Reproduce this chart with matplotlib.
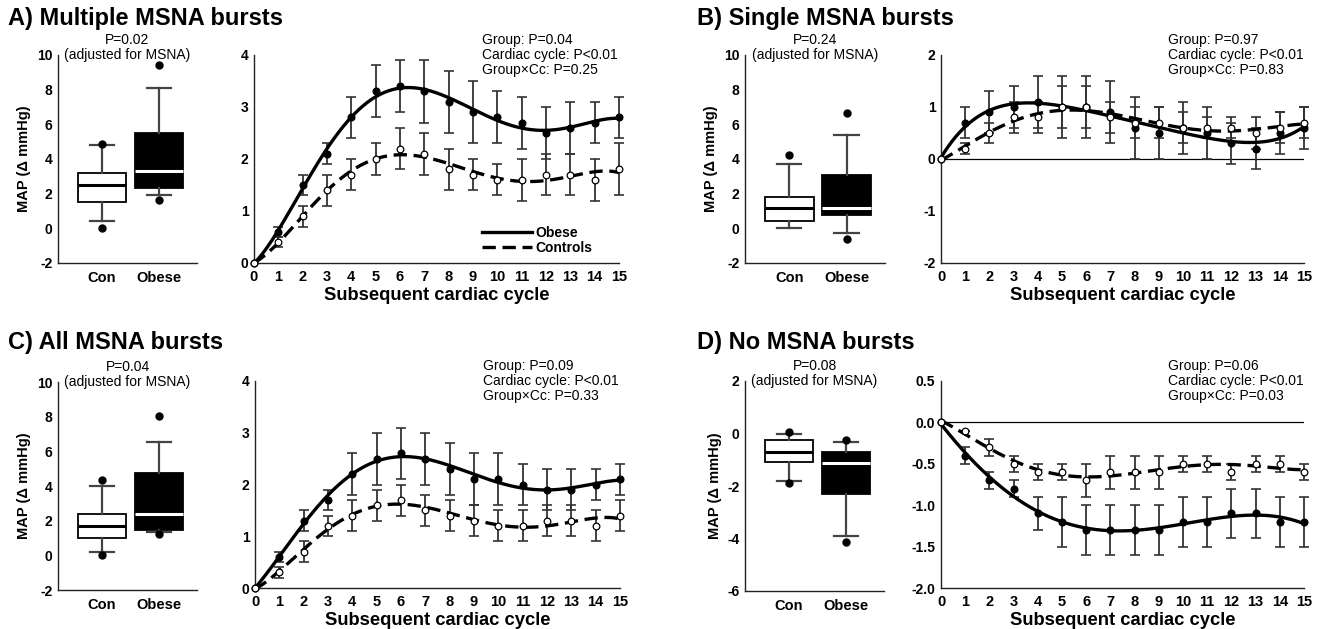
import matplotlib.pyplot as plt
import numpy as np
from matplotlib.lines import Line2D

plt.rcParams['font.family'] = ['Liberation Sans', 'DejaVu Sans']
plt.rcParams['axes.unicode_minus'] = False

W, H = 1328, 629
cycles = np.arange(16)
groups = ["Con", "Obese"]

# A) Multiple MSNA bursts
a_obese = [0, 0.6, 1.5, 2.1, 2.8, 3.3, 3.4, 3.3, 3.1, 2.9, 2.8, 2.7, 2.5, 2.6, 2.7, 2.8]
a_obese_se = [0, 0.1, 0.2, 0.2, 0.4, 0.5, 0.5, 0.6, 0.6, 0.6, 0.5, 0.5, 0.5, 0.5, 0.4, 0.4]
a_con = [0, 0.4, 0.9, 1.4, 1.7, 2.0, 2.2, 2.1, 1.8, 1.7, 1.6, 1.6, 1.7, 1.7, 1.6, 1.8]
a_con_se = [0, 0.1, 0.2, 0.3, 0.3, 0.3, 0.4, 0.4, 0.4, 0.3, 0.3, 0.4, 0.4, 0.4, 0.4, 0.5]
# box: whislo, q1, median, q3, whishi ; outlier dots
a_box_con = [0.4, 1.5, 2.5, 3.2, 4.8]
a_dots_con = [4.85, 0.0]
a_box_obese = [1.95, 2.3, 3.3, 5.5, 8.1]
a_dots_obese = [9.4, 1.65]

# B) Single MSNA bursts
b_obese = [0, 0.7, 0.9, 1.0, 1.1, 1.0, 1.0, 0.9, 0.6, 0.5, 0.6, 0.5, 0.3, 0.2, 0.5, 0.6]
b_obese_se = [0, 0.3, 0.4, 0.4, 0.5, 0.6, 0.6, 0.6, 0.6, 0.5, 0.5, 0.5, 0.4, 0.4, 0.4, 0.4]
b_con = [0, 0.2, 0.5, 0.8, 0.8, 1.0, 1.0, 0.8, 0.7, 0.7, 0.6, 0.6, 0.6, 0.5, 0.6, 0.7]
b_con_se = [0, 0.1, 0.2, 0.3, 0.3, 0.4, 0.4, 0.3, 0.3, 0.3, 0.3, 0.2, 0.2, 0.3, 0.3, 0.3]
b_box_con = [0.0, 0.45, 1.2, 1.8, 3.7]
b_dots_con = [4.25]
b_box_obese = [-0.25, 0.75, 1.15, 3.05, 5.4]
b_dots_obese = [6.65, -0.6]

# C) All MSNA bursts
c_obese = [0, 0.6, 1.3, 1.7, 2.2, 2.5, 2.6, 2.5, 2.3, 2.1, 2.1, 2.0, 1.9, 1.9, 2.0, 2.1]
c_obese_se = [0, 0.1, 0.2, 0.2, 0.4, 0.5, 0.5, 0.5, 0.5, 0.5, 0.5, 0.4, 0.4, 0.4, 0.3, 0.3]
c_con = [0, 0.3, 0.7, 1.2, 1.4, 1.6, 1.7, 1.5, 1.4, 1.3, 1.2, 1.2, 1.3, 1.3, 1.2, 1.4]
c_con_se = [0, 0.1, 0.2, 0.2, 0.3, 0.3, 0.3, 0.3, 0.3, 0.3, 0.3, 0.3, 0.3, 0.3, 0.3, 0.3]
c_box_con = [0.2, 1.0, 1.7, 2.4, 4.0]
c_dots_con = [4.35, 0.0]
c_box_obese = [1.35, 1.45, 2.4, 4.75, 6.55]
c_dots_obese = [8.05, 1.25]

# D) No MSNA bursts
d_obese = [0, -0.4, -0.7, -0.8, -1.1, -1.2, -1.3, -1.3, -1.3, -1.3, -1.2, -1.2, -1.1, -1.1, -1.2, -1.2]
d_obese_se = [0, 0.1, 0.1, 0.1, 0.2, 0.3, 0.3, 0.3, 0.3, 0.3, 0.3, 0.3, 0.3, 0.3, 0.3, 0.3]
d_con = [0, -0.1, -0.3, -0.5, -0.6, -0.6, -0.7, -0.6, -0.6, -0.6, -0.5, -0.5, -0.6, -0.5, -0.5, -0.6]
d_con_se = [0, 0, 0.1, 0.1, 0.1, 0.1, 0.2, 0.2, 0.2, 0.2, 0.1, 0.1, 0.1, 0.1, 0.1, 0.1]
d_box_con = [-1.8, -1.1, -0.72, -0.25, -0.03]
d_dots_con = [0.05, -1.87]
d_box_obese = [-3.9, -2.32, -1.12, -0.7, -0.32]
d_dots_obese = [-0.25, -4.15]

titles = ["A) Multiple MSNA bursts", "B) Single MSNA bursts",
          "C) All MSNA bursts", "D) No MSNA bursts"]
box_p = ["P=0.02", "P=0.24", "P=0.04", "P=0.08"]
stats_text = [
    "Group: P=0.04\nCardiac cycle: P<0.01\nGroup\u00d7Cc: P=0.25",
    "Group: P=0.97\nCardiac cycle: P<0.01\nGroup\u00d7Cc: P=0.83",
    "Group: P=0.09\nCardiac cycle: P<0.01\nGroup\u00d7Cc: P=0.33",
    "Group: P=0.06\nCardiac cycle: P<0.01\nGroup\u00d7Cc: P=0.03",
]

fig = plt.figure(figsize=(W / 100, H / 100), dpi=100)


def px_axes(l, t, r, b):
    return fig.add_axes([l / W, 1 - b / H, (r - l) / W, (b - t) / H])


def style(ax):
    for s in ["top", "right"]:
        ax.spines[s].set_visible(False)
    for s in ["left", "bottom"]:
        ax.spines[s].set_linewidth(1.0)
        ax.spines[s].set_color("#222222")
    ax.tick_params(length=0, labelsize=10, pad=4)
    for lab in ax.get_xticklabels() + ax.get_yticklabels():
        lab.set_fontweight("bold")


def box_panel(ax, con, con_dots, obese, obese_dots, ylim, yticks, ptxt):
    stats = []
    for s, lab in zip([con, obese], groups):
        stats.append(dict(whislo=s[0], q1=s[1], med=s[2], q3=s[3], whishi=s[4],
                          fliers=[], label=lab))
    bp = ax.bxp(stats, positions=[1, 2], widths=0.85, patch_artist=True,
                showfliers=False,
                whiskerprops=dict(color="#444444", lw=1.6),
                capprops=dict(color="#444444", lw=1.6),
                boxprops=dict(edgecolor="black", lw=1.3),
                medianprops=dict(lw=2.2))
    bp["boxes"][0].set_facecolor("white")
    bp["boxes"][1].set_facecolor("black")
    bp["medians"][0].set_color("black")
    bp["medians"][1].set_color("white")
    ax.plot([1] * len(con_dots), con_dots, "o", color="black", ms=5, zorder=4)
    ax.plot([2] * len(obese_dots), obese_dots, "o", color="black", ms=5, zorder=4)
    ax.set_xlim(0.23, 2.67)
    ax.set_ylim(*ylim)
    ax.set_yticks(yticks)
    ax.set_ylabel("MAP (\u0394 mmHg)", fontsize=10.5, fontweight="bold", labelpad=4)
    style(ax)
    ax.tick_params(axis="x", labelsize=10.5, pad=6)
    ax.text(0.5, 1.035, ptxt + "\n(adjusted for MSNA)", transform=ax.transAxes,
            ha="center", va="center", fontsize=10, linespacing=1.05)


def line_panel(ax, obese, obese_se, con, con_se, ylim, yticks, txt, zero_line, fmt=None):
    ax.errorbar(cycles[1:], obese[1:], yerr=obese_se[1:], fmt="none", ecolor="#333333",
                elinewidth=1.3, capsize=3.6, capthick=1.2, zorder=1, clip_on=False)
    ax.errorbar(cycles[1:], con[1:], yerr=con_se[1:], fmt="none", ecolor="#333333",
                elinewidth=1.3, capsize=3.6, capthick=1.2, zorder=1, clip_on=False)
    xs = np.linspace(0, 15, 300)
    fit_o = np.polyval(np.polyfit(cycles, obese, 5), xs)
    fit_c = np.polyval(np.polyfit(cycles, con, 5), xs)
    ax.plot(xs, fit_o, color="black", lw=2.4, zorder=2, clip_on=False)
    ax.plot(xs, fit_c, color="black", lw=2.4, ls=(0, (4, 2)), zorder=2, clip_on=False)
    ax.plot(cycles, obese, "o", color="black", ms=4.8, zorder=3, clip_on=False)
    ax.plot(cycles, con, "o", mfc="white", mec="black", mew=0.9, ms=4.8, zorder=3,
            clip_on=False)
    if zero_line:
        ax.axhline(0, color="black", lw=0.9, zorder=0)
    ax.set_xlim(0, 15)
    ax.set_ylim(*ylim)
    ax.set_xticks(cycles)
    ax.set_yticks(yticks)
    if fmt:
        ax.set_yticklabels([fmt.format(v) for v in yticks])
    ax.set_xlabel("Subsequent cardiac cycle", fontsize=13.2, fontweight="bold", labelpad=2)
    style(ax)
    ax.tick_params(axis="x", labelsize=10.5, pad=5)
    ax.text(0.625, 1.0, txt, transform=ax.transAxes, ha="left", va="center",
            fontsize=10, linespacing=1.1)


# panel A
ax = px_axes(58, 55, 197, 263)
box_panel(ax, a_box_con, a_dots_con, a_box_obese, a_dots_obese, (-2, 10), range(-2, 11, 2), box_p[0])
ax = px_axes(254, 55, 619, 263)
line_panel(ax, a_obese, a_obese_se, a_con, a_con_se, (0, 4), range(0, 5), stats_text[0], False)
handles = [Line2D([], [], color="black", lw=2.4),
           Line2D([], [], color="black", lw=2.4, ls=(0, (4, 2)))]
ax.legend(handles, ["Obese", "Controls"], loc="lower right", bbox_to_anchor=(0.96, -0.02),
          frameon=False, handlelength=3.6, handletextpad=0.2, labelspacing=0.05,
          prop=dict(weight="bold", size=10))

# panel B
ax = px_axes(745, 55, 885, 263)
box_panel(ax, b_box_con, b_dots_con, b_box_obese, b_dots_obese, (-2, 10), range(-2, 11, 2), box_p[1])
ax = px_axes(941, 55, 1304, 263)
line_panel(ax, b_obese, b_obese_se, b_con, b_con_se, (-2, 2), range(-2, 3), stats_text[1], True)

# panel C
ax = px_axes(58, 382, 197, 590)
box_panel(ax, c_box_con, c_dots_con, c_box_obese, c_dots_obese, (-2, 10), range(-2, 11, 2), box_p[2])
ax = px_axes(255, 381, 620, 588)
line_panel(ax, c_obese, c_obese_se, c_con, c_con_se, (0, 4), range(0, 5), stats_text[2], False)

# panel D
ax = px_axes(745, 381, 884, 591)
box_panel(ax, d_box_con, d_dots_con, d_box_obese, d_dots_obese, (-6, 2), range(-6, 3, 2), box_p[3])
ax = px_axes(941, 381, 1304, 588)
line_panel(ax, d_obese, d_obese_se, d_con, d_con_se, (-2.0, 0.5),
           [-2.0, -1.5, -1.0, -0.5, 0.0, 0.5], stats_text[3], True, fmt="{:.1f}")

for txt, (x, y) in zip(titles, [(8, 18), (697, 18), (8, 342), (697, 342)]):
    fig.text(x / W, 1 - y / H, txt, fontsize=17, fontweight="bold", ha="left", va="center")

fig.savefig("out.png", dpi=100)
